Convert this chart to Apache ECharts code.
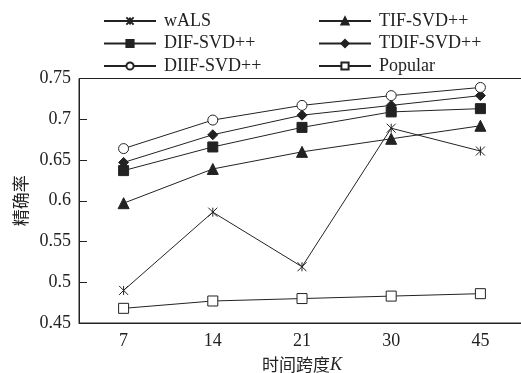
<!DOCTYPE html>
<html lang="zh">
<head>
    <meta charset="UTF-8">
    <title>精确率随时间跨度变化</title>
    <script src="https://cdn.jsdelivr.net/npm/echarts@6/dist/echarts.min.js"></script>
    <style>
        html, body { margin: 0; padding: 0; background: #fff; }
        #main { width: 521px; height: 373px; }
    </style>
</head>
<body>
<div id="main"></div>
<script type="text/javascript">
    // 数据
    var categories = ['7', '14', '21', '30', '45'];
    var wALS = [0.490, 0.586, 0.519, 0.689, 0.661];
    var tifSvd = [0.597, 0.639, 0.660, 0.676, 0.692];
    var difSvd = [0.637, 0.666, 0.690, 0.709, 0.713];
    var tdifSvd = [0.647, 0.681, 0.705, 0.717, 0.729];
    var diifSvd = [0.664, 0.699, 0.717, 0.729, 0.739];
    var popular = [0.468, 0.477, 0.480, 0.483, 0.486];

    var serif = 'Liberation Serif';
    var cjk = 'Noto Sans CJK SC';
    var ink = '#222';

    // 星号标记
    var asterisk = 'path://M0,0L10,10M10,0L0,10M5,0L5,10';

    function makeSeries(name, data, symbol, size, fill) {
        return {
            name: name,
            type: 'line',
            data: data,
            symbol: symbol,
            symbolSize: size,
            showAllSymbol: true,
            lineStyle: { color: ink, width: 1 },
            itemStyle: { color: fill, borderColor: ink, borderWidth: 1 },
            emphasis: { disabled: true }
        };
    }

    var chart = echarts.init(document.getElementById('main'));

    var legendCommon = {
        orient: 'vertical',
        top: 12,
        padding: 0,
        itemWidth: 52,
        itemHeight: 9,
        itemGap: 4.5,
        textStyle: { fontFamily: serif, fontSize: 18, color: ink, lineHeight: 18, padding: [0, 0, 0, 3] }
    };

    chart.setOption({
        animation: false,
        textStyle: { fontFamily: serif },
        legend: [
            Object.assign({ left: 103, data: ['wALS', 'DIF-SVD++', 'DIIF-SVD++'] }, legendCommon),
            Object.assign({ left: 318, data: ['TIF-SVD++', 'TDIF-SVD++', 'Popular'] }, legendCommon)
        ],
        grid: {
            left: 79,
            top: 78.5,
            right: -4,
            bottom: 50,
            outerBoundsMode: 'none',
            containLabel: false,
            show: true,
            borderColor: ink,
            borderWidth: 1
        },
        xAxis: {
            type: 'category',
            data: categories,
            boundaryGap: true,
            axisLine: { lineStyle: { color: ink, width: 1 } },
            axisTick: { inside: true, length: 6, lineStyle: { color: ink } },
            axisLabel: { fontFamily: serif, fontSize: 18, color: ink, margin: 9 },
            name: '时间跨度{i|K}',
            nameLocation: 'middle',
            nameGap: 33,
            nameTextStyle: {
                fontFamily: cjk, fontSize: 17, color: ink,
                rich: { i: { fontFamily: serif, fontStyle: 'italic', fontSize: 18, color: ink } }
            }
        },
        yAxis: {
            type: 'value',
            min: 0.45,
            max: 0.75,
            interval: 0.05,
            axisLine: { show: true, lineStyle: { color: ink, width: 1 } },
            axisTick: { show: true, inside: true, length: 8, lineStyle: { color: ink } },
            splitLine: { show: false },
            axisLabel: { fontFamily: serif, fontSize: 18, color: ink, margin: 8 },
            name: '精确率',
            nameLocation: 'middle',
            nameGap: 50,
            nameTextStyle: { fontFamily: cjk, fontSize: 17, color: ink }
        },
        series: [
            makeSeries('wALS', wALS, asterisk, 9, ink),
            makeSeries('TIF-SVD++', tifSvd, 'triangle', 11, ink),
            makeSeries('DIF-SVD++', difSvd, 'rect', 10, ink),
            makeSeries('TDIF-SVD++', tdifSvd, 'diamond', 10, ink),
            makeSeries('DIIF-SVD++', diifSvd, 'circle', 10, '#fff'),
            makeSeries('Popular', popular, 'rect', 10, '#fff')
        ]
    });
</script>
</body>
</html>
